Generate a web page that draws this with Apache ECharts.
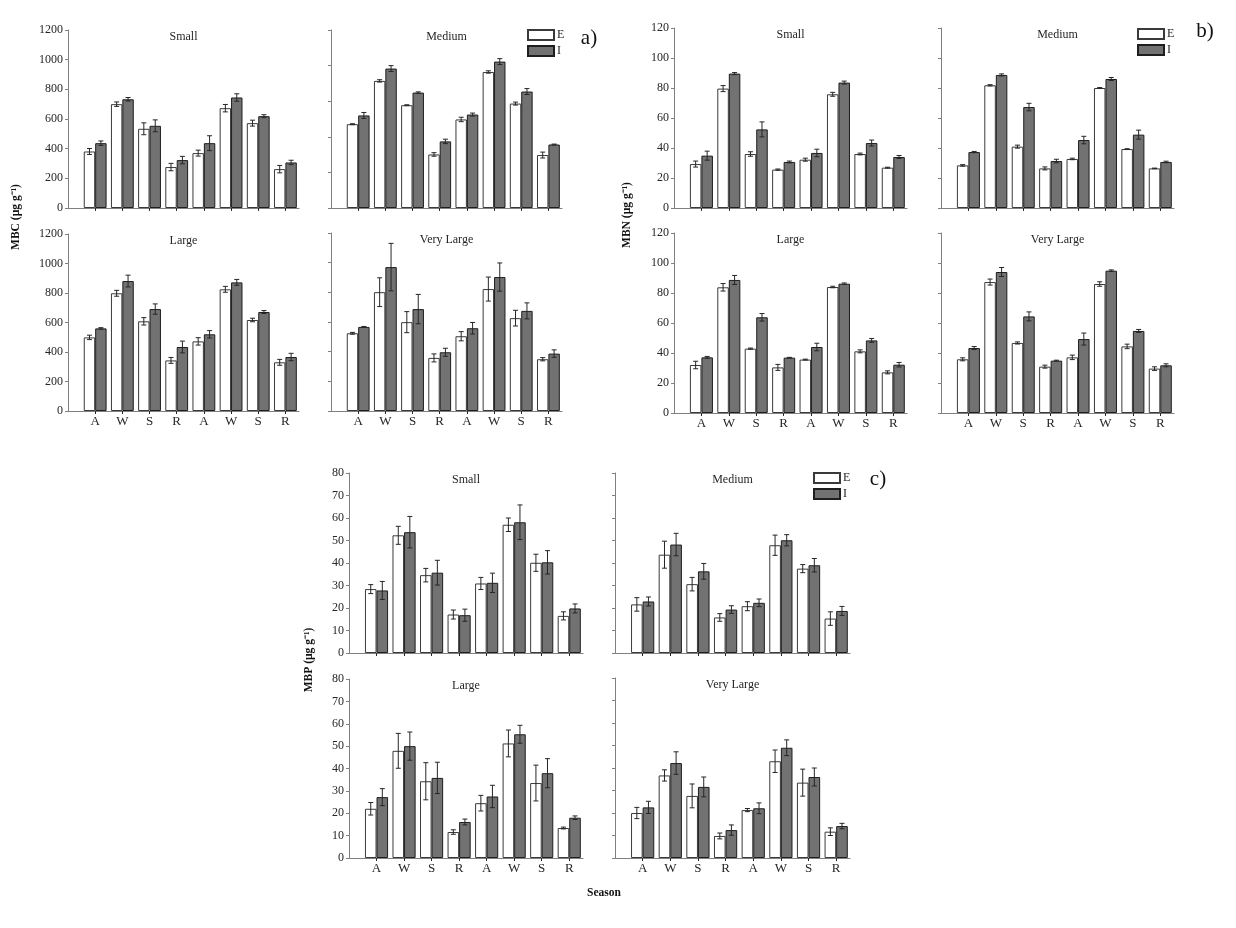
<!DOCTYPE html>
<html>
<head>
<meta charset="utf-8">
<title>MBC MBN MBP</title>
<script src="https://cdn.jsdelivr.net/npm/echarts@6.0.0/dist/echarts.min.js"></script>
<style>
  html, body { margin: 0; padding: 0; background: #fff; }
  #main { width: 1236px; height: 928px; }
</style>
</head>
<body>
<div id="main"></div>
<script>
// season labels on the x axis
var seasons = ['A', 'W', 'S', 'R', 'A', 'W', 'S', 'R'];

// a) MBC
var mbcSmallE = [381, 700, 534, 276, 370, 673, 572, 262];
var mbcSmallEErr = [20, 15, 40, 25, 20, 25, 20, 25];
var mbcSmallI = [437, 733, 554, 323, 437, 745, 619, 307];
var mbcSmallIErr = [15, 12, 40, 25, 50, 25, 10, 15];

var mbcMediumE = [565, 857, 693, 361, 597, 917, 704, 357];
var mbcMediumEErr = [3, 8, 3, 12, 15, 8, 10, 20];
var mbcMediumI = [624, 940, 778, 449, 630, 987, 785, 428];
var mbcMediumIErr = [20, 20, 5, 15, 10, 20, 20, 3];

var mbcLargeE = [499, 798, 608, 343, 472, 825, 617, 330];
var mbcLargeEErr = [15, 20, 25, 20, 25, 20, 12, 20];
var mbcLargeI = [560, 881, 691, 434, 520, 872, 671, 366];
var mbcLargeIErr = [5, 40, 35, 40, 25, 20, 10, 25];

var mbcVeryLargeE = [524, 801, 599, 358, 504, 822, 626, 349];
var mbcVeryLargeEErr = [6, 97, 71, 27, 31, 81, 53, 11];
var mbcVeryLargeI = [567, 970, 687, 396, 558, 903, 675, 387];
var mbcVeryLargeIErr = [3, 160, 99, 27, 39, 95, 54, 25];

// b) MBN
var mbnSmallE = [29.3, 79.6, 36, 25.6, 32.2, 75.8, 36, 26.9];
var mbnSmallEErr = [2, 2, 1.5, 0.4, 1, 1.3, 0.6, 0.3];
var mbnSmallI = [34.9, 89.6, 52.4, 30.7, 36.7, 83.6, 43.3, 34];
var mbnSmallIErr = [3, 0.7, 5, 0.6, 2.5, 1, 2, 1];

var mbnMediumE = [28.4, 81.8, 40.9, 26.4, 32.7, 80, 39.3, 26.4];
var mbnMediumEErr = [0.5, 0.4, 1, 1, 0.5, 0.3, 0.2, 0.2];
var mbnMediumI = [37.3, 88.7, 67.3, 31.3, 45.3, 86, 48.9, 30.7];
var mbnMediumIErr = [0.4, 0.7, 2.5, 1.2, 2.5, 1, 3, 0.5];

var mbnLargeE = [32, 83.8, 42.9, 30.4, 35.6, 84, 41.1, 27.1];
var mbnLargeEErr = [2.5, 2.5, 0.4, 2, 0.3, 0.5, 1, 1];
var mbnLargeI = [37.1, 88.7, 63.8, 36.9, 44, 86.2, 48.4, 32.2];
var mbnLargeIErr = [0.6, 3, 2.5, 0.2, 2.5, 0.5, 1.3, 1.5];

var mbnVeryLargeE = [35.8, 87.3, 46.7, 30.9, 37.1, 86, 44.4, 29.6];
var mbnVeryLargeEErr = [1, 2, 0.7, 1, 1.5, 1.5, 1.5, 1.2];
var mbnVeryLargeI = [43.3, 94, 64.4, 34.9, 49.3, 94.9, 54.7, 31.8];
var mbnVeryLargeIErr = [1, 3, 3, 0.3, 4, 0.5, 1, 1];

// c) MBP
var mbpSmallE = [28.4, 52.3, 34.6, 17.1, 30.9, 57, 40.1, 16.5];
var mbpSmallEErr = [2, 4, 3, 2, 2.7, 3, 3.8, 1.8];
var mbpSmallI = [27.8, 53.7, 35.7, 16.8, 31.2, 58.1, 40.3, 19.8];
var mbpSmallIErr = [4, 7, 5.5, 2.7, 4.3, 7.7, 5.2, 2];

var mbpMediumE = [21.6, 43.7, 30.6, 15.8, 20.8, 47.9, 37.5, 15.3];
var mbpMediumEErr = [3, 6, 3, 1.7, 2, 4.5, 1.8, 3];
var mbpMediumI = [22.9, 48.2, 36.3, 19.3, 22.3, 50.1, 39, 18.7];
var mbpMediumIErr = [2, 5, 3.5, 1.7, 1.7, 2.5, 3, 2];

var mbpLargeE = [22, 47.9, 34.3, 11.6, 24.5, 51.2, 33.5, 13.4];
var mbpLargeEErr = [2.8, 7.8, 8.3, 1, 3.5, 6, 8, 0.4];
var mbpLargeI = [27.2, 50, 35.8, 16.1, 27.5, 55.3, 37.9, 18];
var mbpLargeIErr = [3.8, 6.3, 7, 1.3, 5, 4, 6.5, 0.8];

var mbpVeryLargeE = [20, 36.7, 27.6, 9.8, 21.3, 43, 33.5, 11.7];
var mbpVeryLargeEErr = [2.5, 2.5, 5.3, 1.3, 0.7, 5, 6, 1.7];
var mbpVeryLargeI = [22.5, 42.2, 31.6, 12.4, 22.1, 49, 36, 14.2];
var mbpVeryLargeIErr = [2.7, 5, 4.4, 2.3, 2.4, 3.5, 4, 1.2];

var FONT = 'Liberation Serif';
var AXIS_GRAY = '#808080';
var INK = '#262626';

// panel layout: [left, top, width, height] in px
var panels = [
  { name: 'Small',      box: [68, 30, 231, 178],  max: 1200, step: 200, yl: true,  xl: false, e: mbcSmallE, ee: mbcSmallEErr, i: mbcSmallI, ie: mbcSmallIErr },
  { name: 'Medium',     box: [331, 30, 231, 178], max: 1200, step: 240, yl: false, xl: false, e: mbcMediumE, ee: mbcMediumEErr, i: mbcMediumI, ie: mbcMediumIErr },
  { name: 'Large',      box: [68, 234, 231, 177], max: 1200, step: 200, yl: true,  xl: true,  e: mbcLargeE, ee: mbcLargeEErr, i: mbcLargeI, ie: mbcLargeIErr },
  { name: 'Very Large', box: [331, 233, 231, 178], max: 1200, step: 200, yl: false, xl: true, e: mbcVeryLargeE, ee: mbcVeryLargeEErr, i: mbcVeryLargeI, ie: mbcVeryLargeIErr },

  { name: 'Small',      box: [674, 28, 233, 180], max: 120, step: 20, yl: true,  xl: false, e: mbnSmallE, ee: mbnSmallEErr, i: mbnSmallI, ie: mbnSmallIErr },
  { name: 'Medium',     box: [941, 28, 233, 180], max: 120, step: 20, yl: false, xl: false, e: mbnMediumE, ee: mbnMediumEErr, i: mbnMediumI, ie: mbnMediumIErr },
  { name: 'Large',      box: [674, 233, 233, 180], max: 120, step: 20, yl: true, xl: true,  e: mbnLargeE, ee: mbnLargeEErr, i: mbnLargeI, ie: mbnLargeIErr },
  { name: 'Very Large', box: [941, 233, 233, 180], max: 120, step: 20, yl: false, xl: true, e: mbnVeryLargeE, ee: mbnVeryLargeEErr, i: mbnVeryLargeI, ie: mbnVeryLargeIErr },

  { name: 'Small',      box: [349, 473, 234, 180], max: 80, step: 10, yl: true,  xl: false, e: mbpSmallE, ee: mbpSmallEErr, i: mbpSmallI, ie: mbpSmallIErr },
  { name: 'Medium',     box: [615, 473, 235, 180], max: 80, step: 10, yl: false, xl: false, e: mbpMediumE, ee: mbpMediumEErr, i: mbpMediumI, ie: mbpMediumIErr },
  { name: 'Large',      box: [349, 679, 234, 179], max: 80, step: 10, yl: true,  xl: true,  e: mbpLargeE, ee: mbpLargeEErr, i: mbpLargeI, ie: mbpLargeIErr },
  { name: 'Very Large', box: [615, 678, 235, 180], max: 80, step: 10, yl: false, xl: true,  e: mbpVeryLargeE, ee: mbpVeryLargeEErr, i: mbpVeryLargeI, ie: mbpVeryLargeIErr }
];

var BAR_FRAC = 0.42;  // bar width as share of the category spacing
var slots = [1, 2, 3, 4, 5, 6, 7, 8];

function errorBars(k, vals, errs, side) {
  return {
    type: 'custom',
    xAxisIndex: k,
    yAxisIndex: k,
    z: 5,
    silent: true,
    data: vals.map(function (v, j) { return [slots[j], v, errs[j]]; }),
    encode: { x: 0, y: 1 },
    renderItem: function (params, api) {
      var x = api.value(0), y = api.value(1), e = api.value(2);
      var hi = api.coord([x, y + e]);
      var lo = api.coord([x, y - e]);
      var cx = hi[0] + side * api.size([1, 0])[0] * BAR_FRAC / 2;
      var cap = 2.5;
      var st = { stroke: INK, lineWidth: 1 };
      return {
        type: 'group',
        children: [
          { type: 'line', shape: { x1: cx, y1: hi[1], x2: cx, y2: lo[1] }, style: st },
          { type: 'line', shape: { x1: cx - cap, y1: hi[1], x2: cx + cap, y2: hi[1] }, style: st },
          { type: 'line', shape: { x1: cx - cap, y1: lo[1], x2: cx + cap, y2: lo[1] }, style: st }
        ]
      };
    }
  };
}

var grids = [], xAxes = [], yAxes = [], series = [], graphics = [];

panels.forEach(function (p, k) {
  grids.push({ left: p.box[0], top: p.box[1], width: p.box[2], height: p.box[3] });

  xAxes.push({
    type: 'value', gridIndex: k, min: 0, max: 8.5, interval: 1,
    axisLine: { show: true, onZero: false, lineStyle: { color: AXIS_GRAY, width: 1.2 } },
    axisTick: { show: true, length: 3, customValues: slots, lineStyle: { color: INK } },
    axisLabel: {
      show: p.xl, customValues: slots, margin: 4,
      fontFamily: FONT, fontSize: 13, color: INK,
      formatter: function (v) { return (v >= 1 && v <= 8 && v % 1 === 0) ? seasons[v - 1] : ''; }
    },
    splitLine: { show: false }
  });

  yAxes.push({
    type: 'value', gridIndex: k, min: 0, max: p.max, interval: p.step,
    axisLine: { show: true, lineStyle: { color: AXIS_GRAY, width: 1 } },
    axisTick: { show: true, length: 3, lineStyle: { color: AXIS_GRAY } },
    axisLabel: {
      show: p.yl, margin: 5, fontFamily: FONT, fontSize: 12, color: INK,
      formatter: function (v) { return String(v); }
    },
    splitLine: { show: false }
  });

  var bw = p.box[2] / 8.5 * BAR_FRAC;
  series.push({
    type: 'bar', name: 'E', xAxisIndex: k, yAxisIndex: k,
    barWidth: bw, barGap: '0%',
    data: p.e.map(function (v, j) { return [slots[j], v]; }),
    itemStyle: { color: '#ffffff', borderColor: '#3a3a3a', borderWidth: 1 }
  });
  series.push({
    type: 'bar', name: 'I', xAxisIndex: k, yAxisIndex: k,
    barWidth: bw, barGap: '0%',
    data: p.i.map(function (v, j) { return [slots[j], v]; }),
    itemStyle: { color: '#727272', borderColor: '#1e1e1e', borderWidth: 1 }
  });
  series.push(errorBars(k, p.e, p.ee, -1));
  series.push(errorBars(k, p.i, p.ie, 1));

  graphics.push({
    type: 'text', x: p.box[0] + p.box[2] / 2, y: p.box[1] + 7,
    style: { text: p.name, align: 'center', verticalAlign: 'middle', font: '12px "' + FONT + '"', fill: INK }
  });
});

// panel letters and axis names
function label(text, x, y, size, bold, rot) {
  graphics.push({
    type: 'text', x: x, y: y, rotation: rot || 0,
    style: {
      text: text, align: 'center', verticalAlign: 'middle',
      font: (bold ? 'bold ' : '') + size + 'px "' + FONT + '"', fill: '#111'
    }
  });
}
label('a)', 589, 38, 21, false);
label('b)', 1205, 31, 21, false);
label('c)', 878, 479, 21, false);
label('MBC (\u00b5g g\u207b\u00b9)', 16, 217, 11.5, true, Math.PI / 2);
label('MBN (\u00b5g g\u207b\u00b9)', 627, 215, 11.5, true, Math.PI / 2);
label('MBP (\u00b5g g\u207b\u00b9)', 309, 660, 11.5, true, Math.PI / 2);
label('Season', 604, 893, 11.5, true);

function legendAt(left, top) {
  return {
    data: ['E', 'I'], left: left, top: top, orient: 'vertical', padding: 0,
    icon: 'rect', itemWidth: 26, itemHeight: 10, itemGap: 4, selectedMode: false,
    textStyle: { fontFamily: FONT, fontSize: 12, color: INK, padding: [0, 0, 0, -2] }
  };
}

var chart = echarts.init(document.getElementById('main'));
chart.setOption({
  animation: false,
  backgroundColor: '#ffffff',
  legend: [legendAt(527, 29), legendAt(1137, 28), legendAt(813, 472)],
  grid: grids,
  xAxis: xAxes,
  yAxis: yAxes,
  series: series,
  graphic: graphics
});
</script>
</body>
</html>
